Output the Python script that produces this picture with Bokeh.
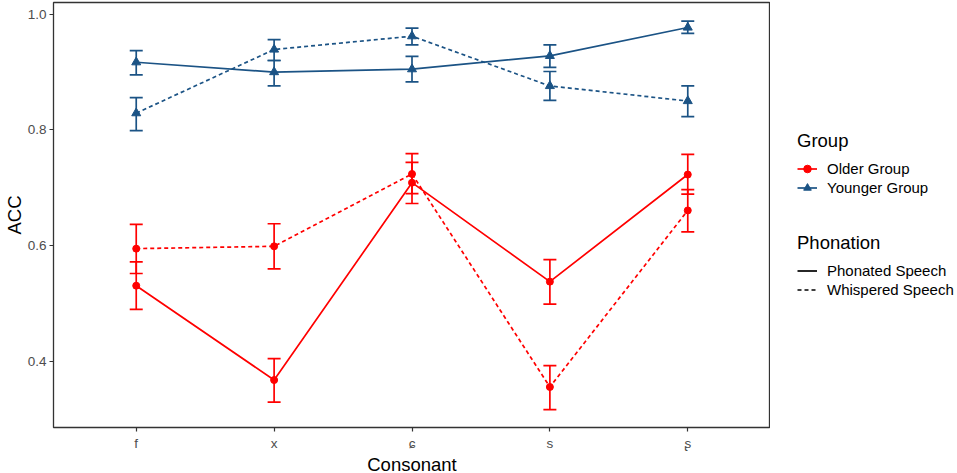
from bokeh.plotting import figure
from bokeh.layouts import row
from bokeh.models import (ColumnDataSource, Whisker, TeeHead, Range1d, FixedTicker,
                          PrintfTickFormatter, Legend, LegendItem)
from bokeh.embed import file_html
from bokeh.resources import INLINE

consonants = ["f", "x", "ɕ", "s", "ʂ"]

older_phon_mean = [0.531, 0.368, 0.709, 0.538, 0.723]
older_phon_low = [0.490, 0.330, 0.673, 0.499, 0.689]
older_phon_high = [0.572, 0.405, 0.744, 0.576, 0.758]

older_whis_mean = [0.595, 0.599, 0.724, 0.356, 0.661]
older_whis_low = [0.552, 0.560, 0.690, 0.317, 0.624]
older_whis_high = [0.637, 0.638, 0.759, 0.393, 0.697]

young_phon_mean = [0.917, 0.900, 0.905, 0.928, 0.977]
young_phon_low = [0.895, 0.876, 0.883, 0.908, 0.967]
young_phon_high = [0.937, 0.920, 0.927, 0.947, 0.988]

young_whis_mean = [0.829, 0.939, 0.962, 0.876, 0.850]
young_whis_low = [0.799, 0.920, 0.947, 0.851, 0.823]
young_whis_high = [0.856, 0.956, 0.976, 0.901, 0.876]

y_ticks = [0.4, 0.6, 0.8, 1.0]

RED = "#FF0000"
BLUE = "#1B5385"
FONT = "Liberation Sans"
DASH = "4 3"
LW = 1.7

xs = list(range(1, len(consonants) + 1))

p = figure(width=771, height=473, output_backend="svg", toolbar_location=None,
           x_range=Range1d(0.4, 5.6), y_range=Range1d(0.286, 1.0202),
           min_border_left=50, min_border_top=2, min_border_right=0,
           frame_width=717, frame_height=425)

p.xgrid.visible = False
p.ygrid.visible = False
p.outline_line_color = "#333333"
p.outline_line_width = 1.3
p.background_fill_color = "white"
p.border_fill_color = "white"

p.xaxis.ticker = FixedTicker(ticks=xs)
p.xaxis.major_label_overrides = {i: c for i, c in zip(xs, consonants)}
p.yaxis.ticker = FixedTicker(ticks=y_ticks)
p.yaxis.formatter = PrintfTickFormatter(format="%.1f")
for ax in (p.xaxis[0], p.yaxis[0]):
    ax.axis_line_color = None
    ax.major_tick_line_color = "#333333"
    ax.major_tick_line_width = 1.2
    ax.major_tick_out = 4
    ax.major_tick_in = 0
    ax.minor_tick_line_color = None
    ax.major_label_text_font = FONT
    ax.major_label_text_font_size = "13.5px"
    ax.major_label_text_color = "#4D4D4D"
    ax.axis_label_text_font = FONT
    ax.axis_label_text_font_size = "18.5px"
    ax.axis_label_text_font_style = "normal"
    ax.axis_label_text_color = "black"
p.xaxis.axis_label = "Consonant"
p.yaxis.axis_label = "ACC"
p.xaxis.major_label_standoff = 4
p.yaxis.major_label_standoff = 3
p.xaxis.axis_label_standoff = 0
p.yaxis.axis_label_standoff = 0

series = [
    (older_phon_mean, older_phon_low, older_phon_high, RED, "solid", "circle", 7),
    (older_whis_mean, older_whis_low, older_whis_high, RED, DASH, "circle", 7),
    (young_phon_mean, young_phon_low, young_phon_high, BLUE, "solid", "triangle", 9),
    (young_whis_mean, young_whis_low, young_whis_high, BLUE, DASH, "triangle", 9),
]

for mean, low, high, col, dash, marker, msize in series:
    src = ColumnDataSource(dict(x=xs, y=mean, lower=low, upper=high))
    p.line("x", "y", source=src, line_color=col, line_width=LW, line_dash=dash)
    w = Whisker(source=src, base="x", upper="upper", lower="lower",
                line_color=col, line_width=LW,
                upper_head=TeeHead(size=13, line_color=col, line_width=LW),
                lower_head=TeeHead(size=13, line_color=col, line_width=LW))
    p.add_layout(w)
    p.scatter("x", "y", source=src, marker=marker, size=msize, color=col)

# legend panel: a separate, axis-less figure beside the plot
lf = figure(width=186, height=473, output_backend="svg", toolbar_location=None,
            x_range=Range1d(0, 1), y_range=Range1d(0, 1),
            min_border_left=0, min_border_right=0, min_border_top=0, min_border_bottom=0)
lf.axis.visible = False
lf.xgrid.visible = False
lf.ygrid.visible = False
lf.outline_line_color = None
lf.background_fill_color = "white"
lf.border_fill_color = "white"

nan = float("nan")


def dummy():
    # one missing value: nothing drawn in the panel, but the legend glyph renders
    return ColumnDataSource(dict(x=[nan], y=[nan]))


r_ol = lf.line("x", "y", source=dummy(), line_color=RED, line_width=LW)
r_om = lf.scatter("x", "y", source=dummy(), marker="circle", size=7, color=RED)
r_yl = lf.line("x", "y", source=dummy(), line_color=BLUE, line_width=LW)
r_ym = lf.scatter("x", "y", source=dummy(), marker="triangle", size=9, color=BLUE)
r_ps = lf.line("x", "y", source=dummy(), line_color="black", line_width=LW)
r_pw = lf.line("x", "y", source=dummy(), line_color="black", line_width=LW,
               line_dash=DASH)


def make_legend(title, items, loc):
    lg = Legend(items=items, title=title, location=loc,
                border_line_color=None, background_fill_alpha=0,
                padding=0, margin=0, spacing=0,
                glyph_width=20, glyph_height=19, label_height=19,
                label_standoff=10,
                title_text_font=FONT, title_text_font_size="18.5px",
                title_text_font_style="normal", title_text_color="black",
                title_standoff=7,
                label_text_font=FONT, label_text_font_size="15px",
                label_text_color="black")
    lf.add_layout(lg)
    return lg


make_legend("Group", [LegendItem(label="Older Group", renderers=[r_ol, r_om]),
                      LegendItem(label="Younger Group", renderers=[r_yl, r_ym])],
            (27, 226))
make_legend("Phonation", [LegendItem(label="Phonated Speech", renderers=[r_ps]),
                          LegendItem(label="Whispered Speech", renderers=[r_pw])],
            (27, 124))

layout = row(p, lf, spacing=0)
open("out.html", "w").write(file_html(layout, INLINE))
